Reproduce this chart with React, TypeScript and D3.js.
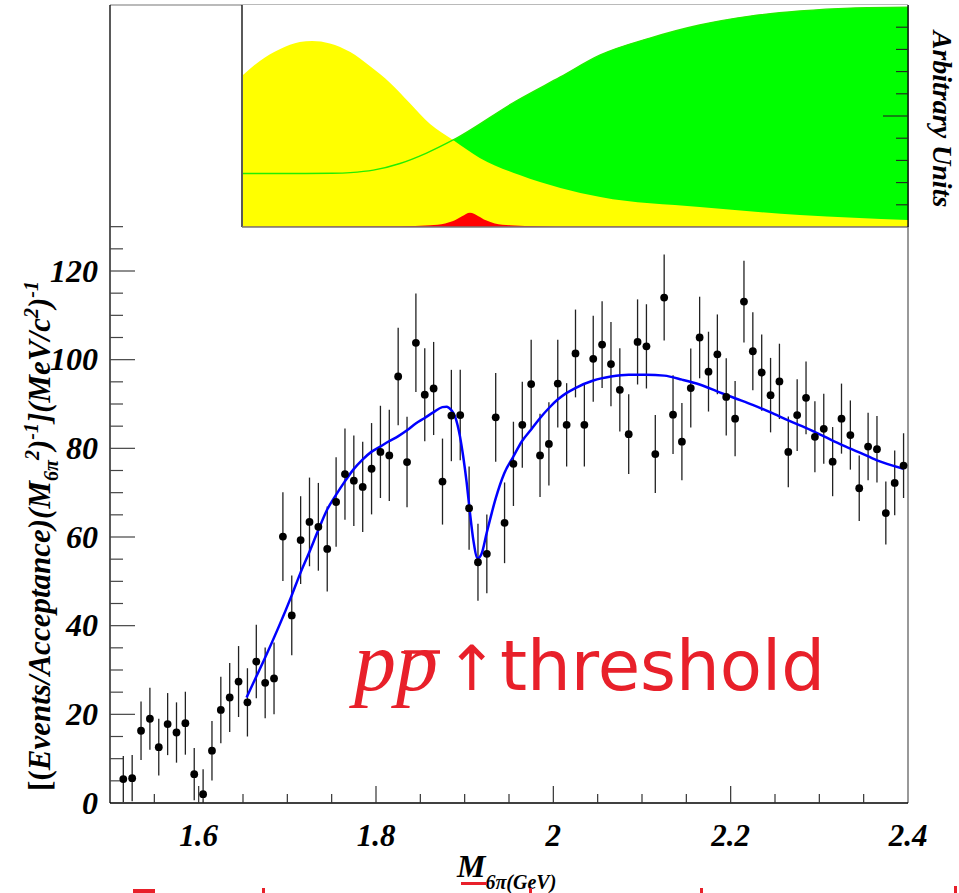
import React from 'react';
import * as d3 from 'd3';

// ---- main histogram: bin centres (GeV), values, errors ----
const massBins = [
  1.515, 1.525, 1.535, 1.545, 1.555, 1.565, 1.575, 1.585, 1.595, 1.605,
  1.615, 1.625, 1.635, 1.645, 1.655, 1.665, 1.675, 1.685, 1.695, 1.705,
  1.715, 1.725, 1.735, 1.745, 1.755, 1.765, 1.775, 1.785, 1.795, 1.805,
  1.815, 1.825, 1.835, 1.845, 1.855, 1.865, 1.875, 1.885, 1.895, 1.905,
  1.915, 1.925, 1.935, 1.945, 1.955, 1.965, 1.975, 1.985, 1.995, 2.005,
  2.015, 2.025, 2.035, 2.045, 2.055, 2.065, 2.075, 2.085, 2.095, 2.105,
  2.115, 2.125, 2.135, 2.145, 2.155, 2.165, 2.175, 2.185, 2.195, 2.205,
  2.215, 2.225, 2.235, 2.245, 2.255, 2.265, 2.275, 2.285, 2.295, 2.305,
  2.315, 2.325, 2.335, 2.345, 2.355, 2.365, 2.375, 2.385, 2.395,
];
const binValues = [
  5.4, 5.6, 16.3, 19.0, 12.6, 17.8, 15.9, 18.0, 6.5, 2.0,
  11.8, 21.0, 23.8, 27.4, 22.7, 31.9, 27.1, 28.1, 60.1, 42.3,
  59.3, 63.4, 62.3, 57.3, 67.9, 74.2, 72.7, 71.3, 75.4, 79.2,
  78.4, 96.2, 76.9, 103.8, 92.1, 93.5, 72.5, 87.4, 87.5, 66.5,
  54.3, 56.2, 87.0, 63.2, 76.5, 85.3, 94.5, 78.4, 81.0, 94.6,
  85.3, 101.4, 85.3, 100.2, 103.4, 99.0, 93.2, 83.2, 104.0, 103.0,
  78.7, 114.0, 87.6, 81.5, 93.6, 105.0, 97.3, 101.2, 91.6, 86.7,
  113.1, 101.9, 97.1, 92.0, 95.1, 79.2, 87.5, 91.4, 82.6, 84.4,
  77.0, 86.7, 83.0, 71.0, 80.4, 79.8, 65.4, 72.2, 76.1,
];
const binErrors = [
  5.2, 5.2, 6.6, 7.0, 6.4, 7.0, 6.8, 7.1, 5.9, 5.6,
  6.7, 7.5, 7.8, 8.0, 7.7, 8.3, 8.0, 8.1, 10.0, 9.0,
  9.9, 10.0, 9.9, 9.6, 10.1, 10.3, 10.2, 10.2, 10.3, 10.4,
  10.3, 11.0, 10.2, 11.1, 10.5, 10.5, 9.7, 10.3, 10.2, 9.4,
  8.7, 8.9, 10.0, 9.1, 9.5, 9.7, 10.0, 9.4, 9.4, 9.9,
  9.4, 9.9, 9.4, 9.7, 9.8, 9.5, 9.4, 9.0, 9.6, 9.5,
  8.8, 9.7, 8.9, 8.7, 8.9, 9.2, 9.0, 9.0, 8.7, 8.5,
  9.2, 8.8, 8.6, 8.4, 8.5, 8.0, 8.1, 8.2, 8.0, 7.9,
  7.8, 7.9, 7.8, 7.4, 7.6, 7.5, 7.1, 7.3, 7.3,
];

// ---- fit curve ----
const fitMass = [
  1.654, 1.664, 1.6745, 1.7045, 1.7146, 1.7244, 1.7346, 1.7447, 1.7549, 1.7647,
  1.7744, 1.7845, 1.7947, 1.8048, 1.8147, 1.8248, 1.8346, 1.8448, 1.8545, 1.8646,
  1.8748, 1.8797, 1.8846, 1.8891, 1.8947, 1.8984, 1.9023, 1.906, 1.9097, 1.9147,
  1.9192, 1.9248, 1.9305, 1.935, 1.9447, 1.9548, 1.9646, 1.9748, 1.9849, 1.9951,
  2.0049, 2.0151, 2.0248, 2.0451, 2.065, 2.085, 2.1048, 2.1251, 2.1451, 2.165,
  2.1853, 2.2049, 2.2248, 2.2451, 2.265, 2.2849, 2.3052, 2.3252, 2.345, 2.365, 2.3951,
];
const fitValue = [
  23.8, 28.1, 32.6, 46.6, 51.8, 56.4, 61.4, 66.1, 69.5, 72.5,
  75.2, 77.4, 79.2, 80.4, 81.6, 82.7, 84.0, 85.6, 86.8, 88.1,
  89.3, 89.4, 88.7, 87.2, 82.7, 78.1, 72.2, 65.4, 59.4, 55.2,
  56.3, 60.9, 65.4, 68.7, 74.4, 78.1, 81.6, 84.2, 86.8, 89.1,
  91.0, 92.5, 93.6, 95.3, 96.2, 96.6, 96.6, 96.4, 95.5, 94.4,
  92.8, 91.3, 89.8, 88.1, 86.3, 84.6, 82.7, 80.8, 79.1, 77.3, 75.4,
];

// ---- inset components (arbitrary units, 0..1) ----
const yellowMass = [1.65, 1.669, 1.692, 1.714, 1.728, 1.748, 1.771, 1.793, 1.816, 1.838, 1.861, 1.887, 1.917, 1.962, 2.008, 2.053, 2.165, 2.278, 2.4];
const yellowValue = [0.685, 0.748, 0.802, 0.833, 0.838, 0.827, 0.788, 0.725, 0.649, 0.559, 0.464, 0.392, 0.311, 0.234, 0.176, 0.135, 0.09, 0.054, 0.032];
const greenMass = [1.65, 1.72, 1.75, 1.771, 1.797, 1.827, 1.857, 1.887, 1.96, 2.008, 2.053, 2.109, 2.165, 2.222, 2.278, 2.335, 2.4];
const greenValue = [0.241, 0.241, 0.242, 0.245, 0.256, 0.286, 0.333, 0.392, 0.572, 0.676, 0.775, 0.851, 0.91, 0.95, 0.973, 0.986, 0.99];
const redMass = [1.65, 1.827, 1.861, 1.878, 1.889, 1.897, 1.906, 1.915, 1.924, 1.934, 1.951, 1.985, 2.019, 2.4];
const redValue = [0.001, 0.003, 0.008, 0.016, 0.03, 0.048, 0.064, 0.05, 0.03, 0.016, 0.008, 0.003, 0.002, 0.001];

// ---- axes ----
const xTickValues = [1.6, 1.8, 2.0, 2.2, 2.4];
const xTickLabels = ['1.6', '1.8', '2', '2.2', '2.4'];
const yTickValues = [0, 20, 40, 60, 80, 100, 120];
const yTickLabels = ['0', '20', '40', '60', '80', '100', '120'];

const W = 959;
const H = 893;
const L = 110, R = 908, T = 5, B = 803;
const insetL = 242, insetB = 227;
const RED = '#e8202a';
const SERIF = '"Liberation Serif", "Times New Roman", serif';

export default function App() {
  const x = d3.scaleLinear().domain([1.5, 2.4]).range([L, R]);
  const y = d3.scaleLinear().domain([0, 180]).range([B, T]);
  const yi = d3.scaleLinear().domain([0, 1]).range([insetB, T]);

  const fitLine = d3.line<number>()
    .x((_, i) => x(fitMass[i]))
    .y((d) => y(d))
    .curve(d3.curveMonotoneX)(fitValue) || '';

  const mkArea = (ms: number[], vs: number[]) =>
    d3.area<number>()
      .x((_, i) => x(ms[i]))
      .y0(yi(0))
      .y1((d) => yi(d))
      .curve(d3.curveMonotoneX)(vs) || '';
  const mkLine = (ms: number[], vs: number[]) =>
    d3.line<number>()
      .x((_, i) => x(ms[i]))
      .y((d) => yi(d))
      .curve(d3.curveMonotoneX)(vs) || '';

  const xMinor = d3.range(0, 19).map((i) => 1.5 + i * 0.05).filter((v) => v > 1.501 && v < 2.399);
  const yMinor = d3.range(0, 27).map((i) => i * 5).filter((v) => v > 0);
  const insetTicks = d3.range(1, 10).map((i) => i / 10);

  const labelStyle: React.CSSProperties = {
    fontFamily: SERIF,
    fontWeight: 'bold',
    fontStyle: 'italic',
  };

  return (
    <svg width={W} height={H} style={{ position: 'absolute', left: 0, top: 0, background: '#fff' }}>
      <defs>
        <clipPath id="plotClip">
          <rect x={L} y={T} width={R - L} height={B - T} />
        </clipPath>
      </defs>
      <rect x={0} y={0} width={W} height={H} fill="#fff" />

      {/* frame */}
      <line x1={L} y1={T} x2={R} y2={T} stroke="#777" strokeWidth={1.2} />
      <line x1={R} y1={T} x2={R} y2={B} stroke="#555" strokeWidth={1.2} />
      <line x1={L} y1={T} x2={L} y2={B} stroke="#000" strokeWidth={1.3} />
      <line x1={L} y1={B} x2={R} y2={B} stroke="#000" strokeWidth={1.3} />

      {/* x ticks */}
      {xMinor.map((v, i) => {
        const major = xTickValues.some((t) => Math.abs(t - v) < 1e-6);
        return (
          <line key={'xt' + i} x1={x(v)} x2={x(v)} y1={B} y2={B - (major ? 17 : 9)} stroke="#333" strokeWidth={1.2} />
        );
      })}
      {/* y ticks */}
      {yMinor.map((v, i) => {
        const major = v % 20 === 0;
        return (
          <line key={'yt' + i} x1={L} x2={L + (major ? 25 : 13)} y1={y(v)} y2={y(v)} stroke="#444" strokeWidth={1.2} />
        );
      })}

      {/* tick labels */}
      {xTickValues.map((v, i) => (
        <text key={'xl' + i} x={x(v)} y={846} textAnchor="middle" fontSize={31} style={labelStyle}>
          {xTickLabels[i]}
        </text>
      ))}
      {yTickValues.map((v, i) => (
        <text key={'yl' + i} x={98} y={y(v) + 10.5} textAnchor="end" fontSize={32} style={labelStyle}>
          {yTickLabels[i]}
        </text>
      ))}

      {/* inset */}
      <rect x={insetL} y={T} width={R - insetL} height={insetB - T} fill="#fff" />
      <path d={mkArea(greenMass, greenValue)} fill="#00ff00" />
      <path d={mkArea(yellowMass, yellowValue)} fill="#ffff00" />
      <path d={mkLine(greenMass, greenValue)} fill="none" stroke="#22ee00" strokeWidth={1.4} />
      <path d={mkArea(redMass, redValue)} fill="#ff0000" />
      <line x1={insetL} y1={T} x2={insetL} y2={insetB} stroke="#000" strokeWidth={1.3} />
      <line x1={insetL} y1={insetB} x2={R} y2={insetB} stroke="#777" strokeWidth={1.3} />
      <line x1={R} y1={T} x2={R} y2={insetB} stroke="#000" strokeWidth={1.3} />
      {insetTicks.map((v, i) => (
        <line key={'it' + i} x1={R} x2={R - (Math.abs(v - 0.5) < 1e-6 ? 25 : 12)} y1={yi(v)} y2={yi(v)} stroke="#222" strokeWidth={1.1} />
      ))}
      <text transform={`translate(933, 119) rotate(90)`} textAnchor="middle" fontSize={28} style={labelStyle}>
        Arbitrary Units
      </text>

      {/* data */}
      <g clipPath="url(#plotClip)">
        {massBins.map((m, i) => (
          <line key={'eb' + i} x1={x(m)} x2={x(m)} y1={y(binValues[i] - binErrors[i])} y2={y(binValues[i] + binErrors[i])} stroke="#222" strokeWidth={1.3} />
        ))}
        <path d={fitLine} fill="none" stroke="#0000ff" strokeWidth={2.5} />
        {massBins.map((m, i) => (
          <circle key={'pt' + i} cx={x(m)} cy={y(binValues[i])} r={3.9} fill="#000" />
        ))}
      </g>

      {/* annotation */}
      <text x={354} y={690} fontSize={84} fill={RED} style={{ fontFamily: SERIF, fontStyle: 'italic' }}>
        pp
      </text>
      <line x1={404} x2={440} y1={652} y2={652} stroke={RED} strokeWidth={3.5} />
      <text x={472} y={690} textAnchor="middle" fontSize={62} fill={RED} style={{ fontFamily: '"DejaVu Sans", sans-serif' }}>
        ↑
      </text>
      <text x={500} y={690} fontSize={69} fill={RED} style={{ fontFamily: '"DejaVu Sans", sans-serif' }}>
        threshold
      </text>

      {/* axis titles */}
      <text x={457} y={877} fontSize={32} style={labelStyle}>
        M<tspan fontSize={20} dy={12}>6π(GeV)</tspan>
      </text>
      <text transform={`translate(50, 536) rotate(-90)`} textAnchor="middle" fontSize={31} style={labelStyle}>
        <tspan fontStyle="normal">[(</tspan>Events/Acceptance)(M
        <tspan fontSize={20} dy={8}>6π</tspan>
        <tspan fontSize={20} dy={-19}>2</tspan>
        <tspan dy={11}>)</tspan>
        <tspan fontSize={20} dy={-12}>-1</tspan>
        <tspan dy={12}>](MeV/c</tspan>
        <tspan fontSize={20} dy={-12}>2</tspan>
        <tspan dy={12}>)</tspan>
        <tspan fontSize={20} dy={-12}>-1</tspan>
      </text>

      {/* clipped red fragments at bottom edge */}
      <rect x={133} y={889} width={22} height={4} fill={RED} />
      <rect x={461} y={882} width={26} height={3} fill={RED} />
      <rect x={262} y={888} width={3} height={5} fill={RED} />
      <rect x={529} y={888} width={3} height={5} fill={RED} />
      <rect x={700} y={888} width={3} height={5} fill={RED} />
      <rect x={954} y={886} width={3} height={7} fill={RED} />
    </svg>
  );
}
